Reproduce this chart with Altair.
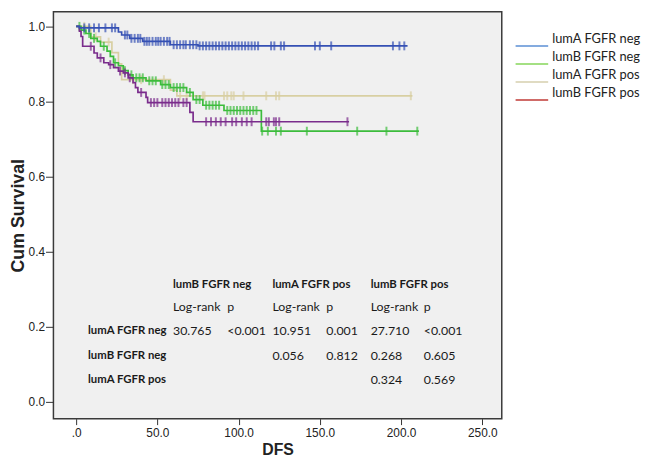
import altair as alt
import pandas as pd

groups = ["lumA FGFR neg", "lumB FGFR neg", "lumA FGFR pos", "lumB FGFR pos"]
curve_colors = ["#3550b4", "#3cbc3c", "#d8cfa2", "#7a2c8c"]
legend_colors = ["#5b8fd4", "#86d65a", "#d6cfae", "#c03a36"]

# Kaplan-Meier step times / survival, end of follow-up, censor times
lumA_neg_t = [0, 2, 26, 28, 33, 41, 58, 75]
lumA_neg_s = [1.0, 0.996, 0.985, 0.977, 0.968, 0.960, 0.951, 0.948]
lumA_neg_end = 204
lumA_neg_cens = [5, 8, 11, 14, 18, 22, 24, 30, 31.5, 34, 36, 38, 39.5, 42, 43.5, 45, 47, 49,
                 50.5, 52, 54, 56, 57.5, 60, 62, 64, 66, 67.5, 70, 72, 74, 76, 78, 80, 82, 84,
                 86, 88, 90, 92, 94, 96, 98, 100, 102, 104, 106, 108, 110, 112, 120, 122, 126,
                 128, 147, 150, 157, 195, 199, 202]

lumB_neg_t = [0, 3, 6, 9, 13, 15, 19, 21, 23, 26, 29, 32, 35, 43, 52, 58, 68, 72, 78, 91, 114]
lumB_neg_s = [1.0, 0.99, 0.981, 0.968, 0.96, 0.947, 0.934, 0.92, 0.903, 0.895, 0.882, 0.871,
              0.863, 0.855, 0.845, 0.837, 0.824, 0.805, 0.79, 0.776, 0.721]
lumB_neg_end = 211
lumB_neg_cens = [2, 5, 8, 11, 17, 24, 30, 34, 37, 39, 41, 45, 47, 49, 53, 55, 57, 60, 62, 64,
                 66, 70, 74, 76, 80, 82, 84, 86, 88, 93, 95, 97, 99, 101, 103, 105, 107, 109,
                 111, 114.5, 118, 123, 126, 142, 173, 191, 210]

lumA_pos_t = [0, 9, 15, 22, 26, 28, 58, 62]
lumA_pos_s = [1.0, 0.972, 0.958, 0.930, 0.900, 0.858, 0.830, 0.815]
lumA_pos_end = 207
lumA_pos_cens = [5, 12, 20, 35, 40, 54, 64, 68, 78, 79, 91, 93, 95.5, 97, 103, 117, 123, 125, 206]

lumB_pos_t = [0, 2, 3, 4, 11, 13, 17, 20, 23, 26, 29, 32, 35, 36.5, 38, 43, 44, 70, 72]
lumB_pos_s = [1.0, 0.987, 0.973, 0.947, 0.929, 0.916, 0.903, 0.898, 0.890, 0.881, 0.876,
              0.863, 0.850, 0.837, 0.824, 0.811, 0.797, 0.771, 0.746]
lumB_pos_end = 168
lumB_pos_cens = [9, 15, 21, 27, 30, 33, 40, 46, 48, 50, 53, 55, 57, 59, 61, 63, 66, 68, 80, 83,
                 86, 89, 92, 96, 98.5, 102, 105, 108, 117, 118.6, 121.7, 123, 125, 167]

# Log-rank table
col_headers = ["lumB FGFR neg", "lumA FGFR pos", "lumB FGFR pos"]
sub_headers = ["Log-rank", "p", "Log-rank", "p", "Log-rank", "p"]
row_labels = ["lumA FGFR neg", "lumB FGFR neg", "lumA FGFR pos"]
row_values = [
    ["30.765", "<0.001", "10.951", "0.001", "27.710", "<0.001"],
    ["", "", "0.056", "0.812", "0.268", "0.605"],
    ["", "", "", "", "0.324", "0.569"],
]
# table layout (data units)
table_cols_x = [59.6, 93, 120.8, 154, 181.3, 214]
table_label_x = 7.3
table_rows_y = [0.311, 0.253, 0.190, 0.122, 0.059]

series = {
    "lumA FGFR neg": (lumA_neg_t, lumA_neg_s, lumA_neg_end, lumA_neg_cens),
    "lumB FGFR neg": (lumB_neg_t, lumB_neg_s, lumB_neg_end, lumB_neg_cens),
    "lumA FGFR pos": (lumA_pos_t, lumA_pos_s, lumA_pos_end, lumA_pos_cens),
    "lumB FGFR pos": (lumB_pos_t, lumB_pos_s, lumB_pos_end, lumB_pos_cens),
}

def surv_at(ts, ss, t):
    v = ss[0]
    for ti, si in zip(ts, ss):
        if ti <= t:
            v = si
    return v

xs = alt.Scale(domain=[-14, 262], nice=False, zero=False, padding=0)
ys = alt.Scale(domain=[-0.0446, 1.0387], nice=False, zero=False, padding=0)

x_axis = alt.Axis(values=[0, 50, 100, 150, 200, 250],
                  labelExpr="datum.value == 0 ? '.0' : format(datum.value, '.1f')",
                  title="DFS", titleFontSize=16, titleFontWeight="bold", titlePadding=3,
                  labelFontSize=12, tickSize=6, labelPadding=3, domain=False, grid=False,
                  tickColor="#333", labelColor="#222", titleColor="#222")
y_axis = alt.Axis(values=[0, 0.2, 0.4, 0.6, 0.8, 1.0], format=".1f",
                  title="Cum Survival", titleFontSize=18, titleFontWeight="bold", titlePadding=1,
                  labelFontSize=12, tickSize=8, labelPadding=1, domain=False, grid=False,
                  tickColor="#333", labelColor="#222", titleColor="#222")

def X(field):
    return alt.X(field, scale=xs, axis=x_axis)

def Y(field):
    return alt.Y(field, scale=ys, axis=y_axis)

draw_order = ["lumA FGFR pos", "lumB FGFR neg", "lumB FGFR pos", "lumA FGFR neg"]
layers = []
for g in draw_order:
    ts, ss, end, cens = series[g]
    col = curve_colors[groups.index(g)]
    line_df = pd.DataFrame({"t": list(ts) + [end], "s": list(ss) + [ss[-1]]})
    tick_df = pd.DataFrame({"t": cens, "s": [surv_at(ts, ss, c) for c in cens]})
    layers.append(alt.Chart(line_df).mark_line(interpolate="step-after", strokeWidth=1.7,
                                               color=col).encode(x=X("t:Q"), y=Y("s:Q")))
    layers.append(alt.Chart(tick_df).mark_tick(orient="vertical", size=9, thickness=2,
                                               color=col).encode(x=X("t:Q"), y=Y("s:Q")))

# table text
bold_rows = []
for txt, xx in zip(col_headers, [table_cols_x[0], table_cols_x[2], table_cols_x[4]]):
    bold_rows.append({"text": txt, "t": xx, "s": table_rows_y[0]})
for txt, yy in zip(row_labels, table_rows_y[2:]):
    bold_rows.append({"text": txt, "t": table_label_x, "s": yy})
norm_rows = []
for txt, xx in zip(sub_headers, table_cols_x):
    norm_rows.append({"text": txt, "t": xx, "s": table_rows_y[1]})
for vals, yy in zip(row_values, table_rows_y[2:]):
    for txt, xx in zip(vals, table_cols_x):
        if txt:
            norm_rows.append({"text": txt, "t": xx, "s": yy})

bold_text = alt.Chart(pd.DataFrame(bold_rows)).mark_text(
    align="left", baseline="middle", font="Lato", fontSize=11.5, fontWeight="bold",
    color="#1a1a1a").encode(x=X("t:Q"), y=Y("s:Q"), text="text:N")
norm_text = alt.Chart(pd.DataFrame(norm_rows)).mark_text(
    align="left", baseline="middle", font="Lato", fontSize=12.5,
    color="#1a1a1a").encode(x=X("t:Q"), y=Y("s:Q"), text="text:N")

main = alt.layer(*layers, bold_text, norm_text).properties(
    width=454, height=412,
    view=alt.ViewBackground(fill="#f0f0f0", stroke="#3a3a3a", strokeWidth=1.5))

# custom legend
leg_df = pd.DataFrame({"label": groups, "color": legend_colors})
leg_y = alt.Y("label:N", sort=groups, axis=None,
              scale=alt.Scale(type="point", domain=groups, range=[34.7, 89.3], padding=0))
leg_rule = alt.Chart(leg_df).mark_rule(strokeWidth=1.5).encode(
    y=leg_y, x=alt.value(0), x2=alt.value(33), color=alt.Color("color:N", scale=None))
leg_text = alt.Chart(leg_df).mark_text(align="left", baseline="middle", dy=-7, font="Lato",
                                       fontSize=13, color="#222").encode(
    y=leg_y, x=alt.value(37), text="label:N")
legend = alt.layer(leg_rule, leg_text).properties(width=124, height=124)

chart = alt.hconcat(main, legend, spacing=11).properties(
    padding={"left": 0, "top": 0, "right": 0, "bottom": 0}
).configure_view(stroke="transparent").configure_axis(
    labelFont="Liberation Sans", titleFont="Liberation Sans")

chart.save("out.html", embed_options={"renderer": "svg", "actions": False})
